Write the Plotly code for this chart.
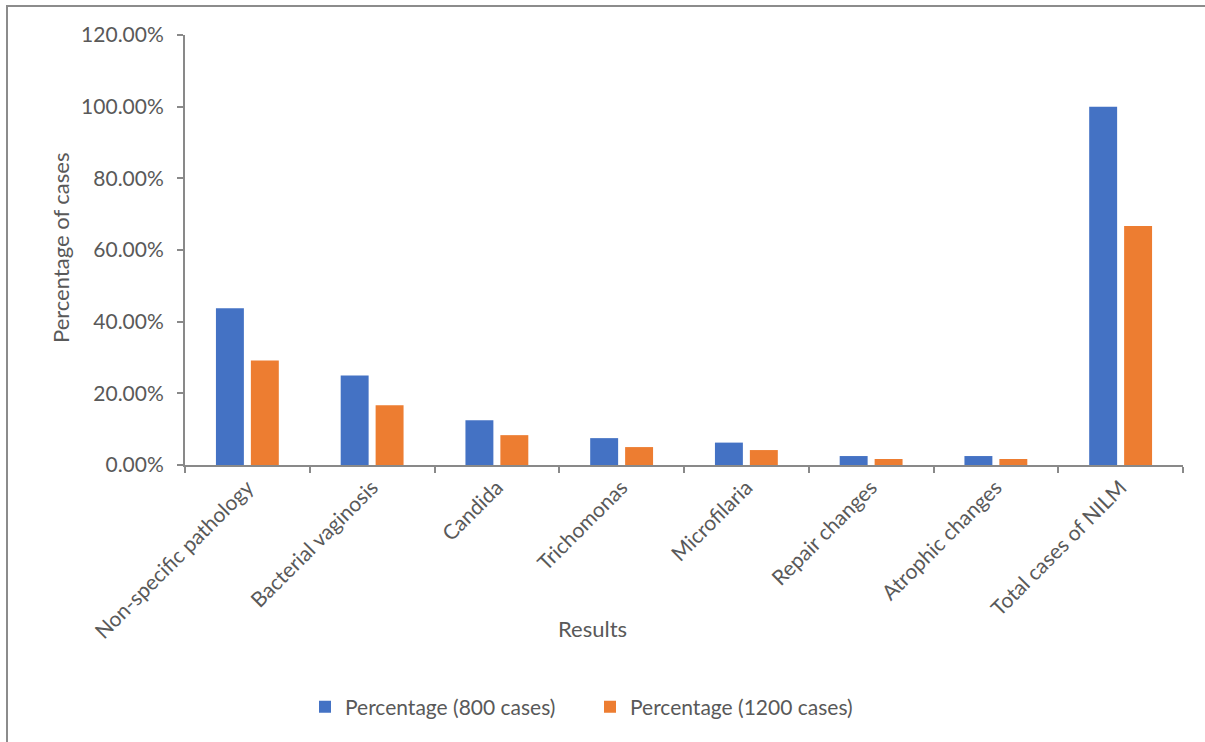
import plotly.graph_objects as go

# Categories and series (percent of cases)
categories = [
    "Non-specific pathology",
    "Bacterial vaginosis",
    "Candida",
    "Trichomonas",
    "Microfilaria",
    "Repair changes",
    "Atrophic changes",
    "Total cases of NILM",
]
pct_800 = [43.75, 25.0, 12.5, 7.5, 6.25, 2.5, 2.5, 100.0]
pct_1200 = [29.17, 16.67, 8.33, 5.0, 4.17, 1.67, 1.67, 66.67]

series_names = ["Percentage (800 cases)", "Percentage (1200 cases)"]
y_ticks = [0, 20, 40, 60, 80, 100, 120]

FONT = "Lato, Carlito, 'Open Sans', sans-serif"
TEXT = "#595959"
AXIS = "#898989"
FS = 21

fig = go.Figure()
fig.add_trace(go.Bar(x=categories, y=pct_800, name=series_names[0],
                     marker=dict(color="#4472C4", line=dict(width=0))))
fig.add_trace(go.Bar(x=categories, y=pct_1200, name=series_names[1],
                     marker=dict(color="#ED7D31", line=dict(width=0))))

W, H = 1205, 742
L, R, T, B = 185, 22, 35, 277
pw, ph = W - L - R, H - T - B


def px_x(x):
    return (x - L) / pw


def px_y(y):
    return (H - B - y) / ph


fig.update_layout(
    width=W, height=H,
    margin=dict(l=L, r=R, t=T, b=B),
    paper_bgcolor="white", plot_bgcolor="white",
    font=dict(family=FONT, size=FS, color=TEXT),
    barmode="group", bargap=0.44, bargroupgap=0.2,
    showlegend=True,
    legend=dict(orientation="h", x=px_x(305), y=px_y(707),
                xanchor="left", yanchor="middle",
                font=dict(family=FONT, size=FS, color=TEXT),
                itemwidth=30, entrywidth=240, entrywidthmode="pixels",
                tracegroupgap=0),
    xaxis=dict(type="category", showline=True, linecolor=AXIS, linewidth=2,
               ticks="outside", tickson="boundaries", ticklen=6,
               tickcolor=AXIS, tickwidth=2, tickangle=-45,
               tickfont=dict(family=FONT, size=FS, color=TEXT),
               showgrid=False),
    yaxis=dict(range=[0, 120], tickvals=y_ticks,
               ticktext=[f"{v:.2f}%" for v in y_ticks],
               showline=True, linecolor=AXIS, linewidth=2,
               ticks="outside", ticklen=6, tickcolor=AXIS, tickwidth=2,
               ticklabelstandoff=9,
               tickfont=dict(family=FONT, size=FS, color=TEXT),
               showgrid=False, zeroline=False),
    annotations=[
        dict(text="Percentage of cases", x=px_x(60), y=px_y(248),
             xref="paper", yref="paper", showarrow=False, textangle=-90,
             xanchor="center", yanchor="middle",
             font=dict(family=FONT, size=22, color=TEXT)),
        dict(text="Results", x=px_x(592), y=px_y(628),
             xref="paper", yref="paper", showarrow=False,
             xanchor="center", yanchor="middle",
             font=dict(family=FONT, size=22, color=TEXT)),
    ],
    shapes=[
        dict(type="rect", xref="paper", yref="paper",
             x0=px_x(7), x1=px_x(1215), y0=px_y(760), y1=px_y(6),
             line=dict(color="#8c8c8c", width=2), fillcolor="rgba(0,0,0,0)",
             layer="below"),
    ],
)

fig.write_html("out.html")
